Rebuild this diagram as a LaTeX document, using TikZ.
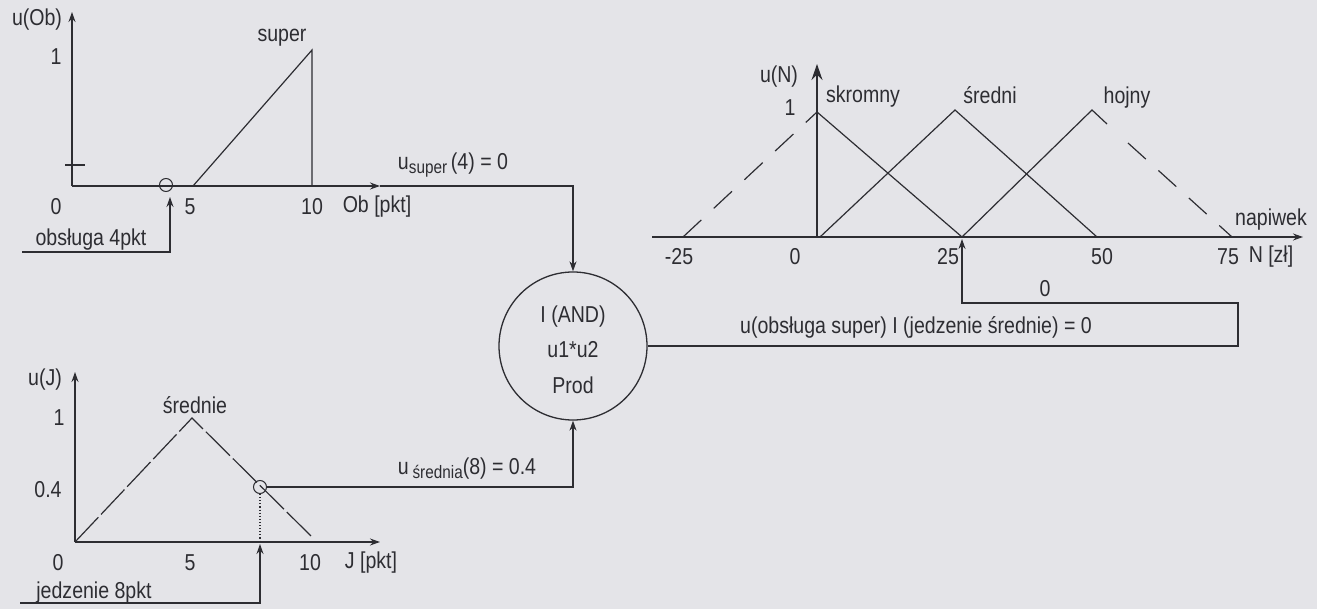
\documentclass[tikz,border=0pt]{standalone}
\usepackage{fontspec}
\setmainfont{Liberation Sans}[FakeStretch=0.85]
\usetikzlibrary{arrows.meta}
\definecolor{ink}{RGB}{45,45,50}
\definecolor{paper}{RGB}{228,228,232}
\newcommand\subtxt[1]{\raisebox{-0.3ex}{\fontsize{18}{18}\selectfont #1}}
\begin{document}
\begin{tikzpicture}[x=1pt,y=-1pt,
  font=\fontsize{23}{26}\selectfont,
  mf/.style={draw=ink, line width=1.2pt},
  ax/.style={mf, -{Stealth[length=10pt,width=7pt]}},
  bigax/.style={mf, -{Stealth[length=16pt,width=11pt]}},
  arr/.style={mf, -{Stealth[length=10pt,width=7pt]}},
  dsh/.style={mf, dash pattern=on 25pt off 17pt},
  ldsh/.style={mf, dash pattern=on 34pt off 4pt},
  pt/.style={circle, draw=ink, line width=1pt, minimum size=13pt, inner sep=0pt},
  lbl/.style={inner sep=0pt, text=ink},
  orcirc/.style={circle, draw=ink, line width=1.3pt, minimum size=148pt, inner sep=0pt}]
\useasboundingbox[fill=paper] (0,0) rectangle (1317,609);

% ---------- top-left chart: obsluga ----------
\coordinate (o1) at (72,186);
\coordinate (y1) at (72,12);
\coordinate (x1) at (380,186);
\draw[ax] (o1) -- (y1);
\draw[ax] (o1) -- (x1);
\draw[mf] (65,165) -- (85,165);
\draw[mf] (193,186) -- (312,50) -- (312,186);
\node[pt] (m1) at (166,185) {};
\coordinate (in1s) at (22,252);
\coordinate (in1e) at (170,197);
\draw[arr] (in1s) -| (in1e);
\node[lbl] (t1) at (37,20) {u(Ob)};
\node[lbl] (t2) at (56,57) {1};
\node[lbl] (t3) at (282,38) {super};
\node[lbl] (t4) at (56,207) {0};
\node[lbl] (t5) at (190,207) {5};
\node[lbl] (t6) at (312,207) {10};
\node[lbl] (t7) at (377,207) {Ob [pkt]};
\node[lbl] (t8) at (91,240) {obsługa 4pkt};

% ---------- bottom-left chart: jedzenie ----------
\coordinate (o2) at (75,542);
\coordinate (y2) at (75,372);
\coordinate (x2) at (380,542);
\draw[ax] (o2) -- (y2);
\draw[ax] (o2) -- (x2);
\draw[ldsh] (75,542) -- (192,418) -- (312,537);
\node[pt] (m2) at (260,487) {};
\draw[mf, line width=1.1pt, dotted] (m2.south) -- (260,542);
\coordinate (in2s) at (20,603);
\coordinate (in2e) at (260,544);
\draw[arr] (in2s) -| (in2e);
\node[lbl] (b1) at (45,380) {u(J)};
\node[lbl] (b2) at (59,418) {1};
\node[lbl] (b3) at (195,405) {średnie};
\node[lbl] (b4) at (48,490) {0.4};
\node[lbl] (b5) at (58,563) {0};
\node[lbl] (b6) at (190,563) {5};
\node[lbl] (b7) at (310,563) {10};
\node[lbl] (b8) at (371,563) {J [pkt]};
\node[lbl] (b9) at (94,593) {jedzenie 8pkt};

% ---------- AND node ----------
\node[orcirc] (and) at (573,346) {};
\node[lbl] (a1) at (573,317) {I (AND)};
\node[lbl] (a2) at (573,350) {u1*u2};
\node[lbl] (a3) at (573,385) {Prod};

\draw[arr] (x1) -| (and.north);
\node[lbl] (l1) at (453,165) {u\subtxt{super}\,(4) = 0};
\draw[arr] (m2.east) -| (and.south);
\node[lbl] (l2) at (467,469) {u\,\subtxt{średnia}(8) = 0.4};

% ---------- right chart: napiwek ----------
\coordinate (x3s) at (652,237);
\coordinate (x3e) at (1303,237);
\coordinate (o3) at (817,237);
\coordinate (y3) at (817,64);
\draw[ax] (x3s) -- (x3e);
\draw[bigax] (o3) -- (y3);
\draw[dsh] (683,237) -- (817,112);
\draw[mf] (817,112) -- (962,237);
\draw[mf] (820,237) -- (955,110) -- (1097,237);
\draw[mf] (962,237) -- (1092,110) -- (1107,124);
\draw[mf, dash pattern=on 24pt off 17pt] (1128,143) -- (1232,237);
\node[lbl] (r1) at (779,77) {u(N)};
\node[lbl] (r2) at (790,108) {1};
\node[lbl] (r3) at (863,97) {skromny};
\node[lbl] (r4) at (990,95) {średni};
\node[lbl] (r5) at (1127,98) {hojny};
\node[lbl] (r6) at (1271,220) {napiwek};
\node[lbl] (r7) at (679,257) {-25};
\node[lbl] (r8) at (795,257) {0};
\node[lbl] (r9) at (948,257) {25};
\node[lbl] (r10) at (1102,257) {50};
\node[lbl] (r11) at (1228,257) {75};
\node[lbl] (r12) at (1271,257) {N [zł]};

\coordinate (tgt) at (962,239);
\coordinate (c1) at (1238,346);
\coordinate (c2) at (1238,303);
\draw[arr] (and.east) -- (c1) -- (c2) -| (tgt);
\node[lbl] (r13) at (1045,289) {0};
\node[lbl] (r14) at (916,327) {u(obsługa super) I (jedzenie średnie) = 0};
\end{tikzpicture}
\end{document}
